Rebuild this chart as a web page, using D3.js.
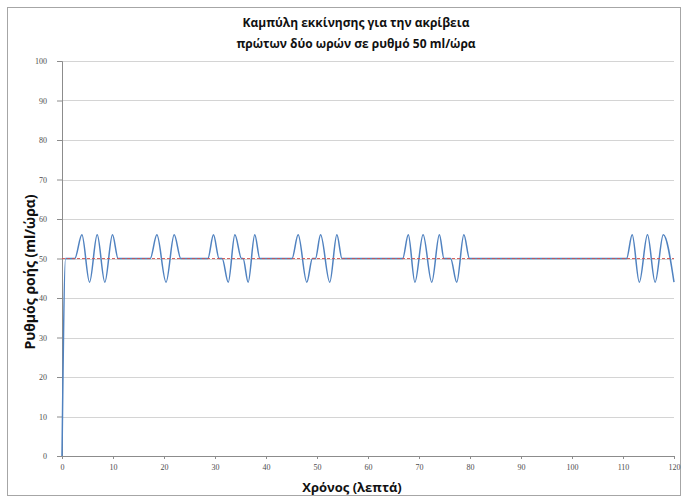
<!DOCTYPE html>
<html>
<head>
<meta charset="utf-8">
<script src="https://cdn.jsdelivr.net/npm/d3@7"></script>
<style>
    body { margin: 0; background: #fff; }
    svg { display: block; }
</style>
</head>
<body>
<div id="chart"></div>
<script>
    // ---------------- data
    const titleLines = ["Καμπύλη εκκίνησης για την ακρίβεια", "πρώτων δύο ωρών σε ρυθμό 50 ml/ώρα"]
    const xLabel = "Χρόνος (λεπτά)"
    const yLabel = "Ρυθμός ροής (ml/ώρα)"
    const xTicks = [0, 10, 20, 30, 40, 50, 60, 70, 80, 90, 100, 110, 120]
    const yTicks = [0, 10, 20, 30, 40, 50, 60, 70, 80, 90, 100]
    const setRate = [[0, 50], [120, 50]]
    // [minute, ml/h]
    const flowPoints = [
        [0, 0], [0.7, 50], [2.5, 50], [3.9, 56], [5.4, 44], [6.9, 56], [8.4, 44], [9.9, 56], [11, 50],
        [17.3, 50], [18.6, 56], [20.4, 44], [22, 56], [23.3, 50],
        [28.6, 50], [29.7, 56], [30.8, 50], [31.4, 50], [32.6, 44], [33.9, 56], [35.2, 50], [35.5, 50], [36.5, 44], [37.8, 56], [38.8, 50],
        [45.1, 50], [46.3, 56], [48.0, 44], [49.1, 50], [49.7, 50], [50.7, 56], [52.5, 44], [53.9, 56], [54.9, 50],
        [66.8, 50], [67.9, 56], [69.2, 44], [70.8, 56], [72.5, 44], [74.0, 56], [74.9, 50], [76.2, 50], [77.4, 44], [78.8, 56], [79.9, 50],
        [110.7, 50], [111.8, 56], [113.2, 44], [114.8, 56], [116.3, 44], [117.9, 56], [120, 44]
    ]

    // ---------------- dimensions
    const dimensions = {
        width: 687,
        height: 500,
        margin: { top: 61, right: 13, bottom: 44, left: 62 }
    }
    dimensions.boundedWidth = dimensions.width - dimensions.margin.left - dimensions.margin.right
    dimensions.boundedHeight = dimensions.height - dimensions.margin.top - dimensions.margin.bottom

    const wrapper = d3.select("#chart")
        .append("svg")
        .attr("width", dimensions.width)
        .attr("height", dimensions.height)

    // outer frame
    wrapper.append("rect")
        .attr("x", 7.5)
        .attr("y", 7.5)
        .attr("width", 673)
        .attr("height", 488)
        .attr("fill", "#fff")
        .attr("stroke", "#a6a6a6")

    const bounds = wrapper.append("g")
        .attr("transform", `translate(${dimensions.margin.left}, ${dimensions.margin.top})`)

    // ---------------- scales
    const xScale = d3.scaleLinear()
        .domain([0, 120])
        .range([0, dimensions.boundedWidth])

    const yScale = d3.scaleLinear()
        .domain([0, 100])
        .range([dimensions.boundedHeight, 0])

    // ---------------- grid
    bounds.append("g")
        .selectAll("line")
        .data(yTicks.filter(d => d > 0))
        .join("line")
        .attr("x1", 0)
        .attr("x2", dimensions.boundedWidth)
        .attr("y1", d => Math.round(yScale(d)) + 0.5)
        .attr("y2", d => Math.round(yScale(d)) + 0.5)
        .attr("stroke", "#d4d4d4")

    // ---------------- axes
    const yAxisGenerator = d3.axisLeft(yScale)
        .tickValues(yTicks)
        .tickSize(5)
        .tickPadding(10)

    const xAxisGenerator = d3.axisBottom(xScale)
        .tickValues(xTicks)
        .tickSize(3)
        .tickPadding(5)

    const yAxis = bounds.append("g")
        .call(yAxisGenerator)
    const xAxis = bounds.append("g")
        .attr("transform", `translate(0, ${dimensions.boundedHeight})`)
        .call(xAxisGenerator)

    for (const ax of [xAxis, yAxis]) {
        ax.select(".domain").attr("stroke", "#8c8c8c")
        ax.selectAll(".tick line").attr("stroke", "#8c8c8c")
        ax.selectAll(".tick text")
            .attr("fill", "#4d4d4d")
            .style("font-family", "'Liberation Serif', serif")
            .style("font-size", "8px")
    }

    // ---------------- lines
    const lineGenerator = d3.line()
        .x(d => xScale(d[0]))
        .y(d => yScale(d[1]))
        .curve(d3.curveMonotoneX)

    bounds.append("path")
        .attr("d", lineGenerator(flowPoints))
        .attr("fill", "none")
        .attr("stroke", "#5082c0")
        .attr("stroke-width", 1.5)

    bounds.append("path")
        .attr("d", d3.line().x(d => xScale(d[0])).y(d => yScale(d[1]))(setRate))
        .attr("fill", "none")
        .attr("stroke", "#d0504d")
        .attr("stroke-width", 0.9)
        .attr("stroke-dasharray", "3,2")

    // ---------------- labels
    wrapper.append("text")
        .attr("x", 356)
        .attr("y", 27)
        .attr("text-anchor", "middle")
        .style("font-family", "'Open Sans', sans-serif")
        .style("font-weight", "bold")
        .style("font-size", "12px")
        .attr("fill", "#111")
        .selectAll("tspan")
        .data(titleLines)
        .join("tspan")
        .attr("x", 356)
        .attr("dy", (d, i) => i === 0 ? 0 : 21)
        .text(d => d)

    wrapper.append("text")
        .attr("x", 352)
        .attr("y", 492)
        .attr("text-anchor", "middle")
        .style("font-family", "'Open Sans', sans-serif")
        .style("font-weight", "bold")
        .style("font-size", "13px")
        .attr("fill", "#111")
        .text(xLabel)

    wrapper.append("text")
        .attr("transform", "translate(35, 272) rotate(-90)")
        .attr("text-anchor", "middle")
        .style("font-family", "'Open Sans', sans-serif")
        .style("font-weight", "bold")
        .style("font-size", "14px")
        .attr("fill", "#111")
        .text(yLabel)
</script>
</body>
</html>
